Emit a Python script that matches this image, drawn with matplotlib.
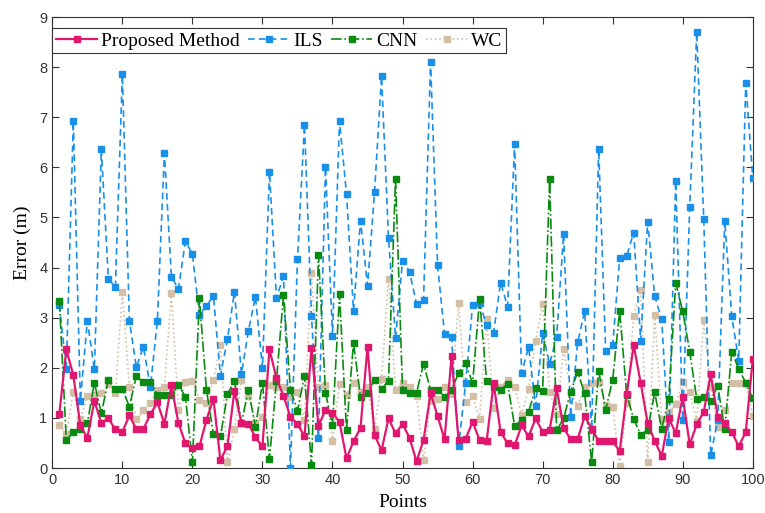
import numpy as np
import matplotlib
matplotlib.use("Agg")
import matplotlib.pyplot as plt

points = np.arange(1, 101)

proposed = [
    1.08, 2.37, 1.85, 0.85, 0.60, 1.34, 0.90, 0.99, 0.77, 0.72,
    1.05, 0.77, 0.78, 1.07, 1.31, 0.88, 1.65, 0.90, 0.49, 0.39,
    0.43, 0.96, 1.38, 0.15, 0.44, 1.54, 0.90, 0.88, 0.61, 0.43,
    2.37, 1.79, 1.44, 1.02, 0.88, 0.63, 2.39, 0.84, 1.16, 1.10,
    0.92, 0.19, 0.53, 0.80, 2.42, 0.66, 0.35, 0.99, 0.69, 0.88,
    0.60, 0.13, 0.56, 1.49, 1.04, 0.57, 2.24, 0.55, 0.58, 0.92,
    0.56, 0.53, 1.69, 0.72, 0.49, 0.45, 0.85, 0.63, 0.99, 0.72,
    0.76, 1.59, 0.80, 0.57, 0.57, 1.04, 0.78, 0.54, 0.54, 0.54,
    0.33, 1.47, 2.45, 1.70, 0.89, 0.54, 0.24, 1.00, 0.69, 1.42,
    0.47, 0.87, 1.12, 1.87, 1.02, 0.89, 0.72, 0.43, 0.72, 2.17,
]

ils = [
    3.25, 1.97, 6.93, 1.34, 2.94, 1.97, 6.36, 3.78, 3.61, 7.86,
    2.94, 2.01, 2.42, 1.61, 2.94, 6.29, 3.82, 3.57, 4.53, 4.27,
    3.05, 3.24, 3.43, 1.84, 2.57, 3.52, 1.88, 2.74, 3.42, 1.99,
    5.91, 3.39, 3.83, 0.01, 4.17, 6.85, 3.03, 0.59, 6.01, 2.63,
    6.93, 5.47, 3.14, 4.94, 3.64, 5.50, 7.82, 4.59, 2.59, 4.14,
    3.92, 3.27, 3.35, 8.11, 4.05, 2.67, 2.61, 0.43, 1.69, 3.25,
    3.30, 2.85, 2.70, 3.70, 3.22, 6.47, 1.90, 2.41, 1.24, 2.69,
    2.08, 2.62, 4.67, 1.02, 2.51, 3.13, 0.76, 6.37, 2.34, 2.45,
    4.19, 4.23, 4.70, 2.54, 4.92, 3.43, 2.97, 0.52, 5.73, 0.96,
    5.20, 8.71, 4.97, 0.25, 0.96, 4.94, 3.03, 2.14, 7.69, 5.79,
]

cnn = [
    3.34, 0.55, 0.72, 0.78, 0.89, 1.70, 1.09, 1.76, 1.58, 1.58,
    1.22, 1.84, 1.72, 1.72, 1.46, 1.46, 1.46, 1.66, 1.42, 0.11,
    3.39, 1.56, 0.68, 0.63, 1.47, 1.74, 0.90, 1.56, 0.82, 1.70,
    0.18, 1.74, 3.45, 1.56, 1.14, 1.84, 0.06, 4.25, 1.50, 0.86,
    3.47, 0.76, 2.50, 1.42, 1.49, 1.76, 1.58, 1.74, 5.77, 1.56,
    1.49, 1.50, 2.08, 1.56, 1.56, 1.42, 1.55, 1.90, 2.10, 1.69,
    3.37, 1.74, 1.62, 1.56, 1.68, 0.84, 0.96, 1.12, 1.59, 1.54,
    5.77, 0.75, 0.99, 1.52, 1.92, 1.49, 0.11, 1.94, 1.16, 1.76,
    3.14, 1.46, 0.98, 0.66, 0.76, 1.51, 0.78, 1.38, 3.69, 3.13,
    2.32, 1.38, 1.42, 1.34, 1.64, 0.77, 2.32, 1.98, 1.70, 1.39,
]

wc = [
    0.86, 0.68, 1.52, 0.97, 1.44, 1.45, 1.49, 1.68, 1.49, 3.51,
    1.62, 0.97, 1.16, 1.29, 1.56, 1.62, 3.49, 1.16, 1.72, 1.74,
    1.36, 1.29, 1.76, 2.45, 0.11, 0.77, 1.76, 1.44, 0.90, 1.02,
    1.66, 1.62, 1.62, 1.42, 1.52, 0.96, 3.89, 1.62, 1.66, 0.53,
    1.68, 1.46, 1.70, 1.51, 1.62, 0.78, 1.78, 3.77, 1.56, 1.70,
    1.62, 1.44, 0.15, 1.34, 1.38, 1.62, 1.47, 3.30, 1.32, 1.44,
    0.98, 2.97, 1.19, 1.62, 1.76, 1.62, 1.06, 1.58, 2.54, 3.27,
    1.52, 1.08, 2.38, 1.52, 1.24, 1.62, 1.70, 1.72, 1.26, 1.22,
    0.04, 1.30, 3.04, 3.55, 0.11, 3.05, 0.98, 1.12, 1.27, 1.72,
    1.52, 0.94, 2.95, 1.62, 0.82, 1.16, 1.69, 1.70, 1.70, 1.04,
]

fig = plt.figure(figsize=(7.65, 5.13), dpi=100)
ax = fig.add_axes([0.0684, 0.0877, 0.9156, 0.879])

ms = 4.6
l1, = ax.plot(points, proposed, "-s", color="#e0176f", lw=1.6, ms=ms,
              label="Proposed Method", zorder=5)
l2, = ax.plot(points, ils, "--s", color="#1a8fe8", lw=1.2, ms=ms,
              dashes=(4, 2.5), label="ILS", zorder=3)
l3, = ax.plot(points, cnn, "-.s", color="#0a8a10", lw=1.2, ms=ms,
              label="CNN", zorder=4)
l4, = ax.plot(points, wc, ":s", color="#d3bea6", lw=1.2, ms=ms,
              label="WC", zorder=2)

ax.set_xlim(0, 100)
ax.set_ylim(0, 9)
ax.set_xticks(np.arange(0, 101, 10))
ax.set_yticks(np.arange(0, 10, 1))
ax.tick_params(direction="in", top=True, right=True, length=5,
               labelsize=10.5, colors="#333333")
for lab in ax.get_xticklabels() + ax.get_yticklabels():
    lab.set_family(["Liberation Sans", "DejaVu Sans"])
for sp in ax.spines.values():
    sp.set_color("#333333")
    sp.set_linewidth(0.8)

serif = ["Liberation Serif", "DejaVu Serif"]
ax.set_xlabel("Points", family=serif, fontsize=14, labelpad=5)
ax.set_ylabel("Error (m)", family=serif, fontsize=14, labelpad=6)

leg = ax.legend(handles=[l1, l2, l3, l4], loc="upper left",
                bbox_to_anchor=(0.0, 0.9756), borderaxespad=0, ncol=4,
                prop={"family": serif, "size": 14}, handlelength=2.1,
                handletextpad=0.2, columnspacing=0.45, borderpad=0.2,
                fancybox=False, framealpha=1, edgecolor="#333333")
leg.get_frame().set_linewidth(0.8)

fig.savefig("out.png", dpi=100)
